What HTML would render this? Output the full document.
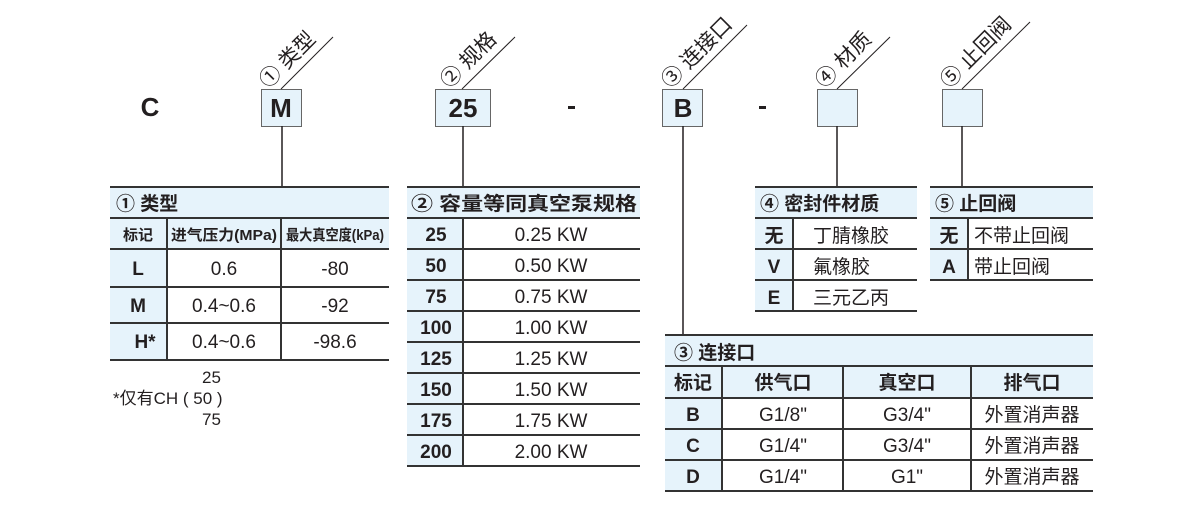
<!DOCTYPE html>
<html><head><meta charset="utf-8"><style>
html,body{margin:0;padding:0;background:#fff;}
svg text{font-family:"Liberation Sans","Noto Sans CJK SC",sans-serif;fill:#231f20;}
.b{font-weight:bold;}
</style></head><body>
<svg width="1200" height="500" viewBox="0 0 1200 500" xmlns="http://www.w3.org/2000/svg">
<!-- top code -->
<text x="150" y="116" font-size="26" class="b" text-anchor="middle">C</text>
<rect x="261.5" y="89.5" width="40" height="37" fill="#e6f3fb" stroke="#666"/>
<text x="281" y="117" font-size="26" class="b" text-anchor="middle">M</text>
<rect x="435.5" y="89.5" width="55" height="37" fill="#e6f3fb" stroke="#666"/>
<text x="463" y="117" font-size="26" class="b" text-anchor="middle">25</text>
<rect x="568" y="106" width="7" height="3" fill="#231f20"/>
<rect x="662.5" y="89.5" width="40" height="37" fill="#e6f3fb" stroke="#666"/>
<text x="683" y="117" font-size="26" class="b" text-anchor="middle">B</text>
<rect x="759" y="106" width="7" height="3" fill="#231f20"/>
<rect x="817.5" y="89.5" width="40" height="37" fill="#e6f3fb" stroke="#666"/>
<rect x="942.5" y="89.5" width="40" height="37" fill="#e6f3fb" stroke="#666"/>

<!-- diagonal labels -->
<g stroke="#231f20" stroke-width="1">
<line x1="281" y1="89" x2="333" y2="37"/>
<line x1="462" y1="89" x2="515" y2="37"/>
<line x1="683" y1="89" x2="747" y2="25"/>
<line x1="837" y1="89" x2="890" y2="37"/>
<line x1="962" y1="89" x2="1030" y2="22"/>
</g>
<g font-size="21">
<text transform="translate(268,89) rotate(-45)">① 类型</text>
<text transform="translate(449,89) rotate(-45)">② 规格</text>
<text transform="translate(670,89) rotate(-45)">③ 连接口</text>
<text transform="translate(824,89) rotate(-45)">④ 材质</text>
<text transform="translate(949,89) rotate(-45)">⑤ 止回阀</text>
</g>

<!-- vertical connectors -->
<g stroke="#231f20" stroke-width="1.5">
<line x1="282" y1="126" x2="282" y2="187"/>
<line x1="463" y1="126" x2="463" y2="187"/>
<line x1="683" y1="126" x2="683" y2="335"/>
<line x1="837" y1="126" x2="837" y2="187"/>
<line x1="962" y1="126" x2="962" y2="187"/>
</g>

<!-- Table 1 -->
<rect x="110" y="187" width="279" height="31" fill="#e6f3fb"/>
<rect x="110" y="218" width="279" height="31" fill="#e6f3fb"/>
<rect x="110" y="249" width="57" height="111" fill="#e6f3fb"/>
<g stroke="#333" stroke-width="2">
<line x1="110" y1="187" x2="389" y2="187"/>
<line x1="110" y1="218" x2="389" y2="218"/>
<line x1="110" y1="249" x2="389" y2="249"/>
<line x1="110" y1="287" x2="389" y2="287"/>
<line x1="110" y1="323" x2="389" y2="323"/>
<line x1="110" y1="360" x2="389" y2="360"/>
<line x1="167" y1="218" x2="167" y2="360"/>
<line x1="281" y1="218" x2="281" y2="360"/>
</g>
<text x="116" y="210" font-size="19" class="b">① 类型</text>
<g font-size="15" class="b" text-anchor="middle">
<text x="138" y="240">标记</text>
<text x="224" y="240" textLength="106" lengthAdjust="spacingAndGlyphs">进气压力(MPa)</text>
<text x="335" y="240" textLength="98" lengthAdjust="spacingAndGlyphs">最大真空度(kPa)</text>
</g>
<g font-size="19" text-anchor="middle">
<text x="138" y="275" class="b">L</text>
<text x="224" y="275">0.6</text>
<text x="335" y="275">-80</text>
<text x="138" y="312" class="b">M</text>
<text x="224" y="312">0.4~0.6</text>
<text x="335" y="312">-92</text>
<text x="145" y="348" class="b" text-anchor="middle">H*</text>
<text x="224" y="348">0.4~0.6</text>
<text x="335" y="348">-98.6</text>
</g>
<g font-size="17">
<text x="202" y="383">25</text>
<text x="113" y="404">*仅有CH ( 50 )</text>
<text x="202" y="425">75</text>
</g>

<!-- Table 2 -->
<rect x="407" y="187" width="233" height="31" fill="#e6f3fb"/>
<rect x="407" y="218" width="56" height="248" fill="#e6f3fb"/>
<g stroke="#333" stroke-width="2">
<line x1="407" y1="187" x2="640" y2="187"/>
<line x1="407" y1="218" x2="640" y2="218"/>
<line x1="407" y1="249" x2="640" y2="249"/>
<line x1="407" y1="280" x2="640" y2="280"/>
<line x1="407" y1="311" x2="640" y2="311"/>
<line x1="407" y1="342" x2="640" y2="342"/>
<line x1="407" y1="373" x2="640" y2="373"/>
<line x1="407" y1="404" x2="640" y2="404"/>
<line x1="407" y1="435" x2="640" y2="435"/>
<line x1="407" y1="466" x2="640" y2="466"/>
<line x1="463" y1="218" x2="463" y2="466"/>
</g>
<text x="411" y="210" font-size="19" class="b" textLength="226" lengthAdjust="spacingAndGlyphs">② 容量等同真空泵规格</text>
<g font-size="19" text-anchor="middle">
<g class="b">
<text x="436" y="241">25</text><text x="436" y="272">50</text><text x="436" y="303">75</text><text x="436" y="334">100</text>
<text x="436" y="365">125</text><text x="436" y="396">150</text><text x="436" y="427">175</text><text x="436" y="458">200</text>
</g>
<text x="551" y="241">0.25 KW</text><text x="551" y="272">0.50 KW</text><text x="551" y="303">0.75 KW</text><text x="551" y="334">1.00 KW</text>
<text x="551" y="365">1.25 KW</text><text x="551" y="396">1.50 KW</text><text x="551" y="427">1.75 KW</text><text x="551" y="458">2.00 KW</text>
</g>

<!-- Table 4 -->
<rect x="755" y="187" width="162" height="31" fill="#e6f3fb"/>
<rect x="755" y="218" width="38" height="93" fill="#e6f3fb"/>
<g stroke="#333" stroke-width="2">
<line x1="755" y1="187" x2="917" y2="187"/>
<line x1="755" y1="218" x2="917" y2="218"/>
<line x1="755" y1="249" x2="917" y2="249"/>
<line x1="755" y1="280" x2="917" y2="280"/>
<line x1="755" y1="311" x2="917" y2="311"/>
<line x1="793" y1="218" x2="793" y2="311"/>
</g>
<text x="760" y="210" font-size="19" class="b">④ 密封件材质</text>
<g font-size="19">
<text x="774" y="242" class="b" text-anchor="middle">无</text>
<text x="774" y="273" class="b" text-anchor="middle">V</text>
<text x="774" y="304" class="b" text-anchor="middle">E</text>
<text x="813" y="242">丁腈橡胶</text>
<text x="813" y="273">氟橡胶</text>
<text x="813" y="304">三元乙丙</text>
</g>

<!-- Table 5 -->
<rect x="930" y="187" width="163" height="31" fill="#e6f3fb"/>
<rect x="930" y="218" width="38" height="62" fill="#e6f3fb"/>
<g stroke="#333" stroke-width="2">
<line x1="930" y1="187" x2="1093" y2="187"/>
<line x1="930" y1="218" x2="1093" y2="218"/>
<line x1="930" y1="249" x2="1093" y2="249"/>
<line x1="930" y1="280" x2="1093" y2="280"/>
<line x1="968" y1="218" x2="968" y2="280"/>
</g>
<text x="935" y="210" font-size="19" class="b">⑤ 止回阀</text>
<g font-size="19">
<text x="949" y="242" class="b" text-anchor="middle">无</text>
<text x="949" y="273" class="b" text-anchor="middle">A</text>
<text x="974" y="242">不带止回阀</text>
<text x="974" y="273">带止回阀</text>
</g>

<!-- Table 3 -->
<rect x="665" y="335" width="428" height="31" fill="#e6f3fb"/>
<rect x="665" y="366" width="428" height="32" fill="#e6f3fb"/>
<rect x="665" y="398" width="57" height="93" fill="#e6f3fb"/>
<g stroke="#333" stroke-width="2">
<line x1="665" y1="335" x2="1093" y2="335"/>
<line x1="665" y1="366" x2="1093" y2="366"/>
<line x1="665" y1="398" x2="1093" y2="398"/>
<line x1="665" y1="429" x2="1093" y2="429"/>
<line x1="665" y1="460" x2="1093" y2="460"/>
<line x1="665" y1="491" x2="1093" y2="491"/>
<line x1="722" y1="366" x2="722" y2="491"/>
<line x1="843" y1="366" x2="843" y2="491"/>
<line x1="971" y1="366" x2="971" y2="491"/>
</g>
<text x="674" y="359" font-size="19" class="b">③ 连接口</text>
<g font-size="19" text-anchor="middle">
<g class="b">
<text x="693" y="389">标记</text><text x="783" y="389">供气口</text><text x="907" y="389">真空口</text><text x="1032" y="389">排气口</text>
<text x="693" y="421">B</text><text x="693" y="452">C</text><text x="693" y="483">D</text>
</g>
<text x="783" y="421">G1/8"</text><text x="907" y="421">G3/4"</text><text x="1032" y="421">外置消声器</text>
<text x="783" y="452">G1/4"</text><text x="907" y="452">G3/4"</text><text x="1032" y="452">外置消声器</text>
<text x="783" y="483">G1/4"</text><text x="907" y="483">G1"</text><text x="1032" y="483">外置消声器</text>
</g>
</svg>
</body></html>
